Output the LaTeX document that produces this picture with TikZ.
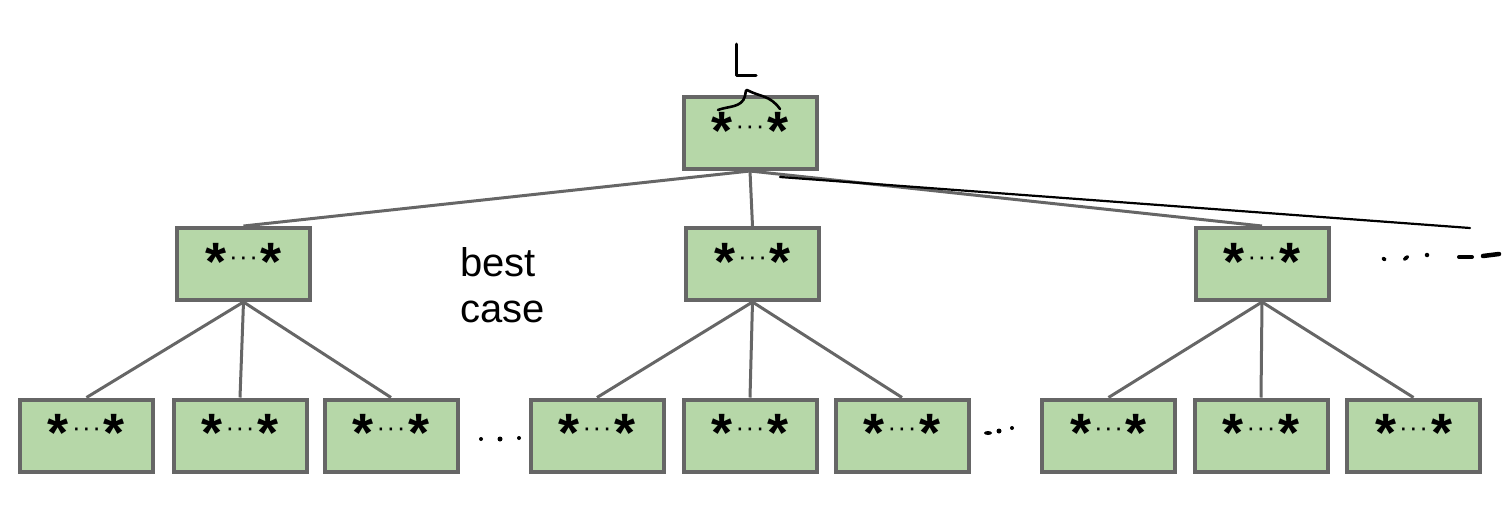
\documentclass[tikz,border=0pt]{standalone}
\usepackage{fontspec}
\setmainfont{Liberation Sans}
\usetikzlibrary{shapes.geometric}
\definecolor{boxfill}{HTML}{B6D7A8}
\definecolor{boxline}{HTML}{666666}
\definecolor{edgegray}{HTML}{666666}
% the "*...*" pattern printed in every box
\newcommand{\starrow}{\smash{\raisebox{-16pt}{%
  {\fontsize{54}{54}\selectfont\bfseries *}%
  {\fontsize{26}{26}\selectfont\raisebox{15pt}{\kern3pt·\kern1.5pt·\kern1.5pt·\kern3pt}}%
  {\fontsize{54}{54}\selectfont\bfseries *}}}}
\begin{document}
\begin{tikzpicture}[x=1pt,y=-1pt,
  box/.style={draw=boxline, fill=boxfill, line width=4pt,
    minimum width=133pt, minimum height=72pt, inner sep=0pt},
  edge/.style={draw=edgegray, line width=3pt},
  ink/.style={draw=black, line width=2.6pt, line cap=round, line join=round},
  blob/.style={fill=black, inner sep=0pt, circle, minimum size=5pt}]
\useasboundingbox (0,0) rectangle (1510,504);

% root
\node[box] (r) at (750,133) {\starrow};
% middle level
\node[box] (m1) at (243.5,264) {\starrow};
\node[box] (m2) at (752.5,264) {\starrow};
\node[box] (m3) at (1262,264) {\starrow};
% leaves
\node[box] (b1) at (86.5,435.5) {\starrow};
\node[box] (b2) at (240,435.5) {\starrow};
\node[box] (b3) at (391,435.5) {\starrow};
\node[box] (b4) at (597,435.5) {\starrow};
\node[box] (b5) at (750,435.5) {\starrow};
\node[box] (b6) at (902,435.5) {\starrow};
\node[box] (b7) at (1108.5,435.5) {\starrow};
\node[box] (b8) at (1261,435.5) {\starrow};
\node[box] (b9) at (1413.5,435.5) {\starrow};

% tree edges
\draw[edge] (r.south) -- (m1.north);
\draw[edge] (r.south) -- (m2.north);
\draw[edge] (r.south) -- (m3.north);
\foreach \m/\a/\b/\c in {m1/b1/b2/b3, m2/b4/b5/b6, m3/b7/b8/b9}{
  \draw[edge] (\m.south) -- (\a.north);
  \draw[edge] (\m.south) -- (\b.north);
  \draw[edge] (\m.south) -- (\c.north);
}

% label
\node[align=left, anchor=north west, inner sep=0pt,
  font=\fontsize{40}{46}\selectfont] (bc) at (460,247) {best\\case};

% gaps between leaf groups
\node[blob, minimum size=4pt] (d1) at (481,439) {};
\node[blob] (d2) at (500,439) {};
\node[blob, minimum size=4pt] (d3) at (519,438) {};
\node[blob, ellipse, minimum width=8pt, minimum height=4pt] (d4) at (988,433) {};
\node[blob] (d5) at (999,431) {};
\node[blob, minimum size=4pt] (d6) at (1012,428) {};

% handwritten marks
\coordinate (hs) at (780,177);
\coordinate (he) at (1470,228);
\draw[ink, line width=2.2pt] (hs) -- (he);
\node[blob, ellipse, minimum width=5pt, minimum height=4pt, rotate=-30] (e1) at (1384,259) {};
\node[blob, ellipse, minimum width=7pt, minimum height=4pt, rotate=40] (e2) at (1406,258) {};
\node[blob, minimum size=4.5pt] (e3) at (1427,255) {};
\coordinate (f1) at (1459,257);
\coordinate (f2) at (1472,257);
\coordinate (g1) at (1483,256);
\coordinate (g2) at (1499,254);
\draw[ink, line width=4pt] (f1) -- (f2);
\draw[ink, line width=4.5pt] (g1) -- (g2);

% L with a brace over the root pattern
\coordinate (l1) at (736,44);
\coordinate (l2) at (736,75);
\coordinate (l3) at (756,75);
\draw[ink, line width=3pt] (l1) -- (l2) -- (l3);
\coordinate (p1) at (718,110);
\coordinate (p2) at (747,90);
\coordinate (p3) at (780,109);
\draw[ink] (p1) .. controls (728,106) and (742,108) .. (745,96)
  .. controls (746,90) .. (p2)
  .. controls (760,97) and (770,95) .. (p3);
\end{tikzpicture}
\end{document}
